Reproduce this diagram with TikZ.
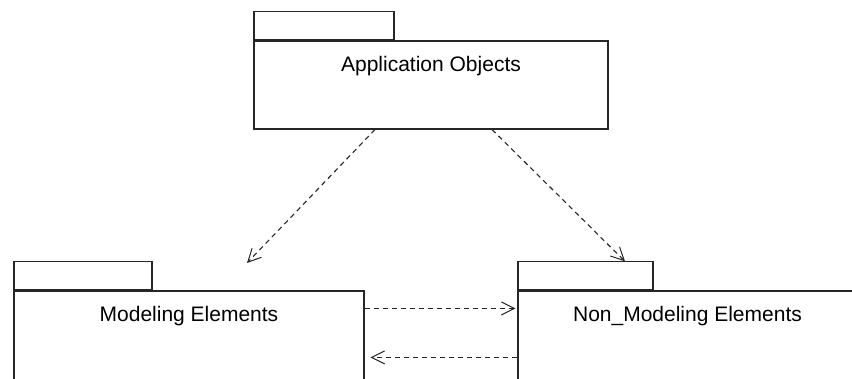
\documentclass[tikz,border=0pt]{standalone}
\usepackage{fontspec}
\setmainfont{Liberation Sans}
\usetikzlibrary{arrows.meta}

\tikzset{
  pkgbody/.style={draw=black!85, line width=1.1pt, fill=white, inner sep=0pt},
  pkgtab/.style={draw=black!85, line width=1.1pt, fill=white, inner sep=0pt, minimum height=28pt, anchor=south west},
  pkgname/.style={anchor=base, inner sep=0pt, font=\fontsize{21}{25}\selectfont},
  dep/.style={draw=black!85, line width=1.1pt, dash pattern=on 5pt off 4pt,
    -{Straight Barb[length=13pt,width=13pt,line width=1pt]}}
}

\begin{document}
\begin{tikzpicture}[x=1pt,y=1pt]
\useasboundingbox (0,0) rectangle (852,378);
\clip (0,0) rectangle (852,378);
\fill[white] (0,0) rectangle (852,378);

% packages
\node[pkgbody, minimum width=354pt, minimum height=88pt] (appbody) at (431,293) {};
\node[pkgtab, minimum width=140pt] (apptab) at (appbody.north west) {};
\node[pkgname] (appname) at ([yshift=-31pt]appbody.north) {Application Objects};

\node[pkgbody, minimum width=350pt, minimum height=94pt] (modbody) at (189,40) {};
\node[pkgtab, minimum width=138pt] (modtab) at (modbody.north west) {};
\node[pkgname] (modname) at ([yshift=-31pt]modbody.north) {Modeling Elements};

\node[pkgbody, minimum width=339pt, minimum height=94pt] (nonbody) at (687.5,40) {};
\node[pkgtab, minimum width=135pt] (nontab) at (nonbody.north west) {};
\node[pkgname] (nonname) at ([yshift=-31pt]nonbody.north) {Non\_Modeling Elements};

% dependencies
\coordinate (modtip) at (247,115);
\draw[dep] ([xshift=-56pt]appbody.south) -- (modtip);
\draw[dep] ([xshift=61pt]appbody.south) -- ([xshift=39.5pt]nontab.north);
\draw[dep, shorten >=2pt] ([yshift=-18pt]modbody.north east) -- ([yshift=-18pt]nonbody.north west);
\draw[dep, shorten >=6pt] ([yshift=-67pt]nonbody.north west) -- ([yshift=-67pt]modbody.north east);
\end{tikzpicture}
\end{document}
